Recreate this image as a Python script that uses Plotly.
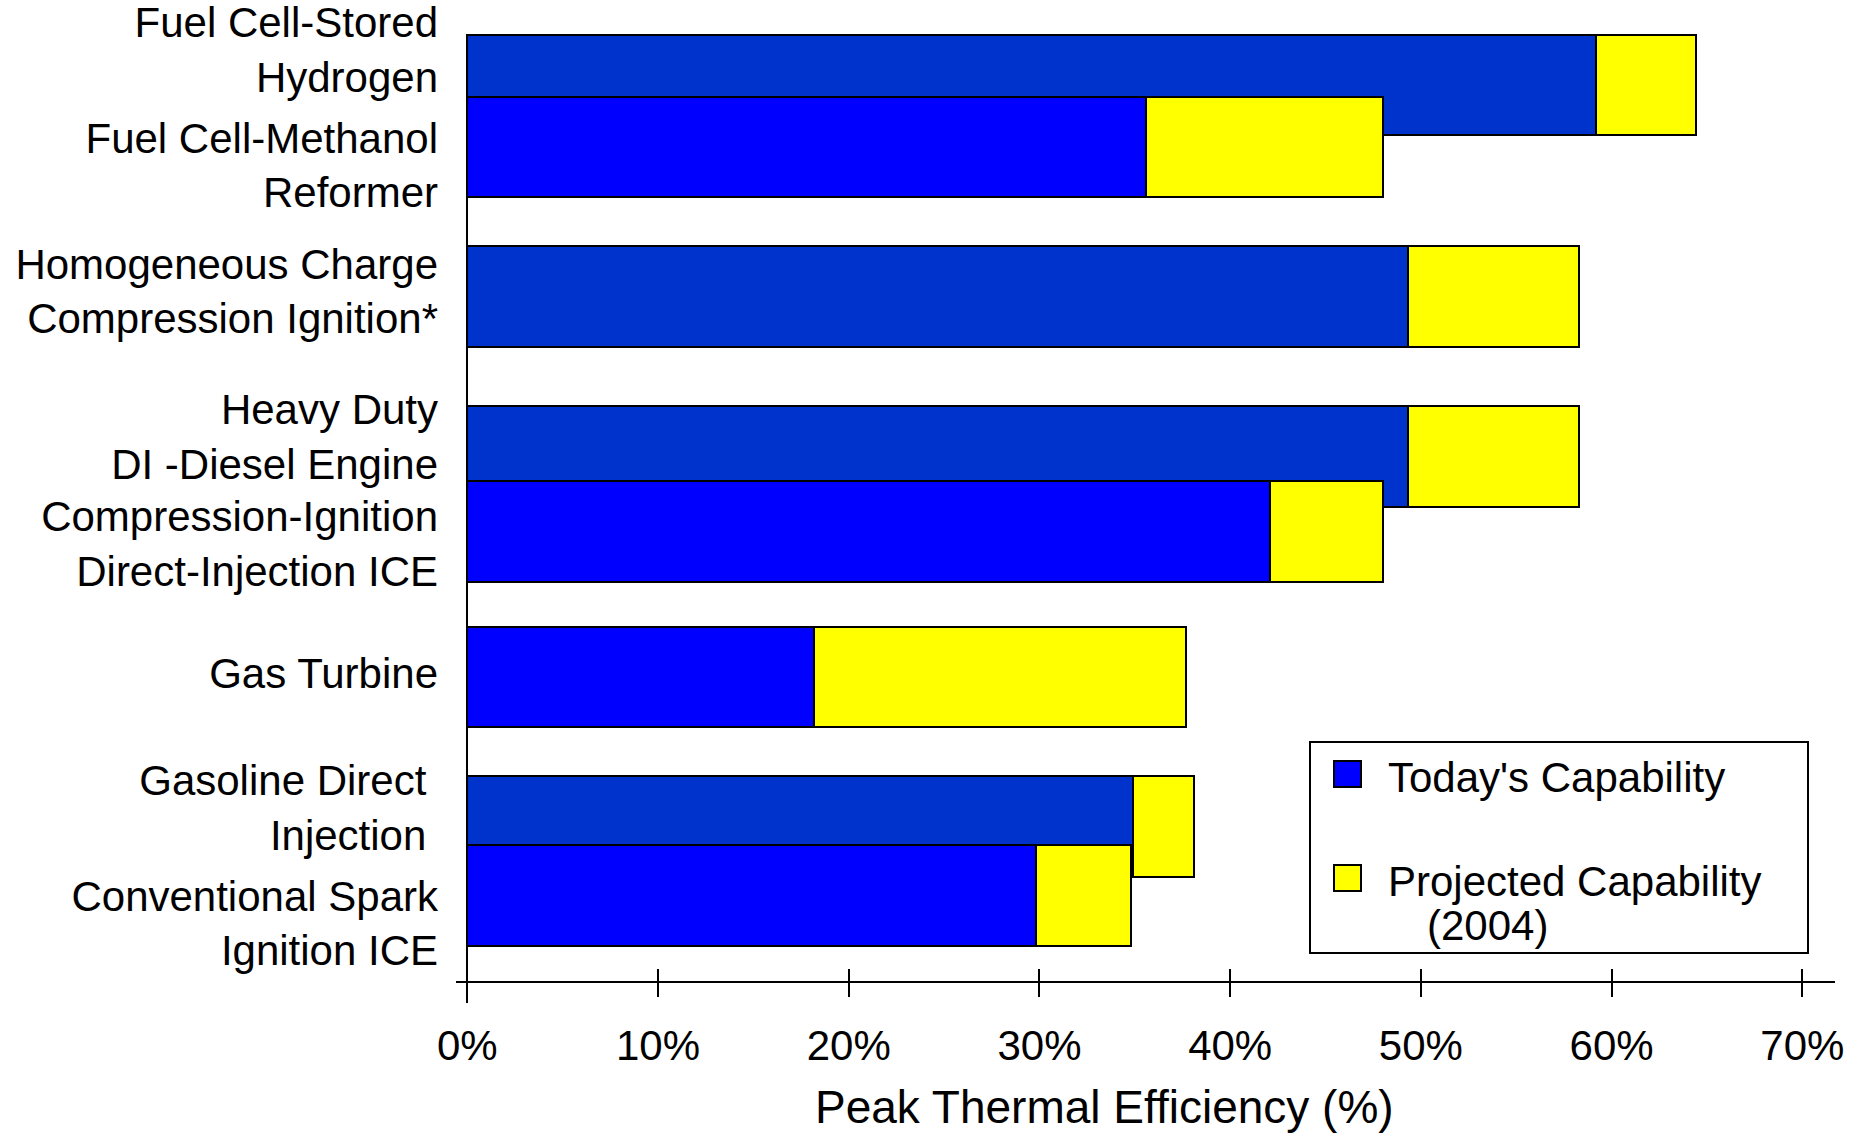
import plotly.graph_objects as go

# ---------------- data ----------------
technologies = [
    "Fuel Cell-Stored Hydrogen",
    "Fuel Cell-Methanol Reformer",
    "Homogeneous Charge Compression Ignition*",
    "Heavy Duty DI -Diesel Engine",
    "Compression-Ignition Direct-Injection ICE",
    "Gas Turbine",
    "Gasoline Direct Injection",
    "Conventional Spark Ignition ICE",
]
tick_labels = [
    "Fuel Cell-Stored<br>Hydrogen",
    "Fuel Cell-Methanol<br>Reformer",
    "Homogeneous Charge<br>Compression Ignition*",
    "Heavy Duty<br>DI -Diesel Engine",
    "Compression-Ignition<br>Direct-Injection ICE",
    "Gas Turbine",
    "Gasoline Direct\u00a0<br>Injection\u00a0",
    "Conventional Spark<br>Ignition ICE",
]
today = [59.2, 35.6, 49.3, 49.3, 42.1, 18.2, 34.9, 29.8]
projected = [64.4, 48.0, 58.3, 58.3, 48.0, 37.7, 38.1, 34.8]
x_tick_vals = [0, 10, 20, 30, 40, 50, 60, 70]
x_tick_text = ["0%", "10%", "20%", "30%", "40%", "50%", "60%", "70%"]
legend_names = ["Today's Capability", "Projected Capability", "(2004)"]
x_title = "Peak Thermal Efficiency (%)"

# ---------------- layout geometry (pixels) ----------------
W, H = 1855, 1137
PLOT_L, PLOT_R, PLOT_T, PLOT_B = 456, 1835, 34, 1003
X0_PX, X70_PX = 467.3, 1802.3
PX_PER_UNIT = (X70_PX - X0_PX) / 70.0
X_RANGE = [(PLOT_L - X0_PX) / PX_PER_UNIT, (PLOT_R - X0_PX) / PX_PER_UNIT]
AXIS_LINE_Y = 981.5

# vertical placement (y axis runs in pixel units, top = PLOT_T)
bar_center_y = [85.2, 147.0, 296.6, 456.5, 531.4, 677.2, 826.7, 895.5]
label_center_y = [49.7, 165.5, 291.5, 436.6, 543.6, 673.7, 807.8, 923.5]
back_layer = [True, False, True, True, False, False, True, False]
BAR_WIDTH = 100.5

DARK_BLUE = "#0033cc"
BLUE = "#0000ff"
YELLOW = "#ffff00"
FONT = "Liberation Sans, Arial, sans-serif"


def paper_x(px):
    return (px - PLOT_L) / (PLOT_R - PLOT_L)


def paper_y(py):
    return (PLOT_B - py) / (PLOT_B - PLOT_T)


fig = go.Figure()

for is_back, blue in ((True, DARK_BLUE), (False, BLUE)):
    idx = [i for i in range(len(technologies)) if back_layer[i] == is_back]
    ys = [bar_center_y[i] for i in idx]
    names = [technologies[i] for i in idx]
    t_vals = [today[i] for i in idx]
    p_vals = [projected[i] for i in idx]
    fig.add_trace(go.Bar(
        orientation="h", y=ys, x=t_vals, base=[0] * len(idx),
        width=BAR_WIDTH, marker=dict(color=blue, line=dict(color="black", width=2)),
        name=legend_names[0], showlegend=False, customdata=names,
        hovertemplate="%{customdata}<br>Today: %{x}%<extra></extra>",
    ))
    fig.add_trace(go.Bar(
        orientation="h", y=ys, x=[p - t for p, t in zip(p_vals, t_vals)], base=t_vals,
        width=BAR_WIDTH, marker=dict(color=YELLOW, line=dict(color="black", width=2)),
        name=legend_names[1], showlegend=False, customdata=p_vals,
        hovertemplate="Projected: %{customdata}%<extra></extra>",
    ))

# empty trace to activate the overlay axis that draws the upward tick halves
fig.add_trace(go.Scatter(x=[None], y=[None], xaxis="x2", showlegend=False, hoverinfo="skip"))

axis_pos = paper_y(AXIS_LINE_Y)
fig.update_layout(
    width=W, height=H,
    margin=dict(l=PLOT_L, r=W - PLOT_R, t=PLOT_T, b=H - PLOT_B, pad=0, autoexpand=False),
    paper_bgcolor="white", plot_bgcolor="white",
    barmode="overlay", bargap=0,
    showlegend=False,
    font=dict(family=FONT, size=42, color="black"),
    xaxis=dict(
        range=X_RANGE, anchor="free", position=axis_pos, automargin=False,
        showline=True, linecolor="black", linewidth=2,
        ticks="outside", ticklen=14, tickwidth=2, tickcolor="black",
        tickvals=x_tick_vals, ticktext=x_tick_text,
        tickfont=dict(family=FONT, size=42, color="black"),
        ticklabelstandoff=13,
        showgrid=False, zeroline=True, zerolinecolor="black", zerolinewidth=2,
        fixedrange=True,
    ),
    xaxis2=dict(
        range=X_RANGE, overlaying="x", anchor="free", position=axis_pos, automargin=False,
        showline=False, ticks="inside", ticklen=13, tickwidth=2, tickcolor="black",
        tickvals=x_tick_vals, showticklabels=False, showgrid=False, zeroline=False,
    ),
    yaxis=dict(
        range=[PLOT_B, PLOT_T], showline=False, showgrid=False, zeroline=False,
        automargin=False,
        ticks="", tickvals=label_center_y, ticktext=tick_labels,
        tickfont=dict(family=FONT, size=42, color="black"),
        ticklabelstandoff=17, ticklabeloverflow="allow", fixedrange=True,
    ),
)

# axis title
fig.add_annotation(
    text=x_title, xref="paper", yref="paper",
    x=paper_x(1104), y=paper_y(1107), xanchor="center", yanchor="middle",
    showarrow=False, font=dict(family=FONT, size=46, color="black"),
)

# legend box
fig.add_shape(type="rect", xref="paper", yref="paper",
              x0=paper_x(1310), x1=paper_x(1808), y0=paper_y(953), y1=paper_y(742),
              line=dict(color="black", width=2), fillcolor="white", layer="above")
fig.add_shape(type="rect", xref="paper", yref="paper",
              x0=paper_x(1334), x1=paper_x(1361), y0=paper_y(787), y1=paper_y(761),
              line=dict(color="black", width=2), fillcolor=BLUE, layer="above")
fig.add_shape(type="rect", xref="paper", yref="paper",
              x0=paper_x(1334), x1=paper_x(1361), y0=paper_y(891), y1=paper_y(865),
              line=dict(color="black", width=2), fillcolor=YELLOW, layer="above")
for txt, px, py in ((legend_names[0], 1386, 777), (legend_names[1], 1386, 881), (legend_names[2], 1425, 925)):
    fig.add_annotation(text=txt, xref="paper", yref="paper", x=paper_x(px), y=paper_y(py),
                       xanchor="left", yanchor="middle", showarrow=False,
                       font=dict(family=FONT, size=42, color="black"))

fig.write_html("out.html")
